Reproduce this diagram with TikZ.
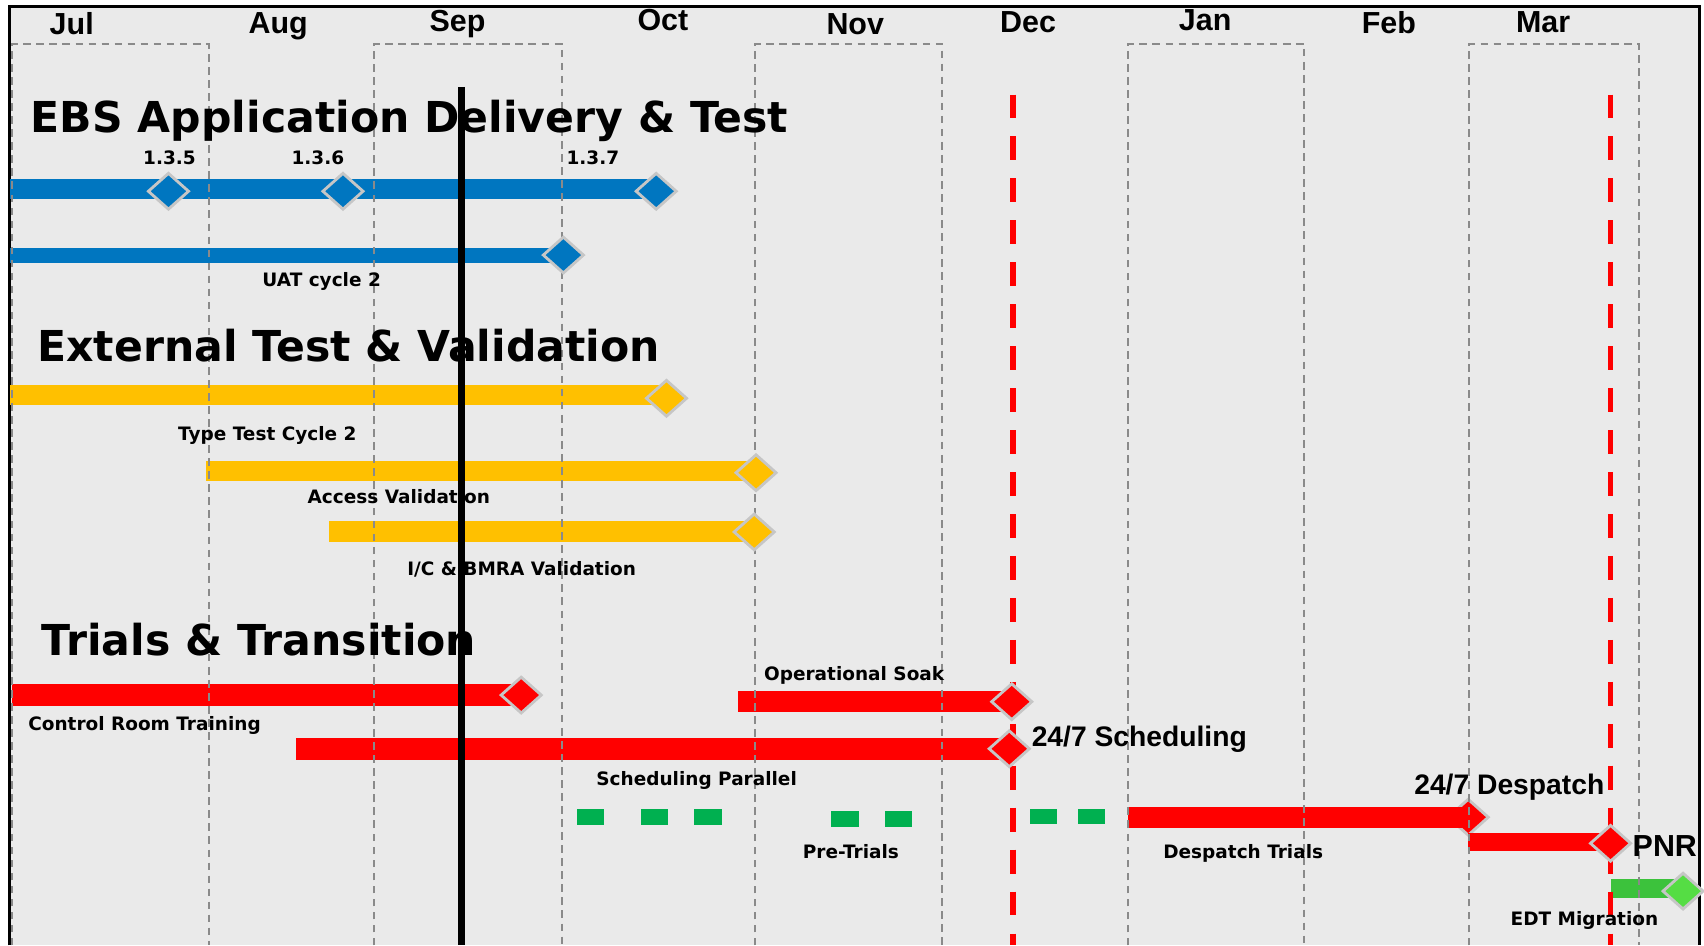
\documentclass[tikz,border=0pt]{standalone}
\usepackage{fontspec}
\setmainfont{DejaVu Sans}
\newfontfamily\arialfont{Liberation Sans}
\usetikzlibrary{shapes.geometric}
\definecolor{bggray}{HTML}{EAEAEA}
\definecolor{gridgray}{HTML}{8A8A8A}
\definecolor{msline}{HTML}{C6C6C6}
\definecolor{bluebar}{RGB}{0,118,192}
\definecolor{yellowbar}{HTML}{FFC000}
\definecolor{redbar}{HTML}{FF0000}
\definecolor{greensq}{HTML}{00B050}
\definecolor{edtbar}{HTML}{3CC23C}
\definecolor{edtms}{HTML}{55DD44}
\tikzset{
  lbl/.style={font=\bfseries\fontsize{8.5pt}{10pt}\selectfont, inner sep=0pt, anchor=base},
  month/.style={font=\arialfont\bfseries\fontsize{14pt}{16pt}\selectfont, inner sep=0pt, anchor=base},
  sect/.style={font=\bfseries\fontsize{19.6pt}{22pt}\selectfont, inner sep=0pt, anchor=base west},
  biglbl/.style={font=\arialfont\bfseries\fontsize{13pt}{15pt}\selectfont, inner sep=0pt, anchor=base west},
  ms/.style={diamond, draw=msline, line width=1.3pt, minimum width=19pt, minimum height=17pt, inner sep=0pt},
  monthbox/.style={draw=gridgray, line width=0.9pt, dash pattern=on 3.5pt off 2.5pt},
  reddash/.style={draw=redbar, line width=2.5pt, dash pattern=on 11pt off 8.3pt},
  todayline/.style={draw=black, line width=3.2pt},
  framestyle/.style={draw=black, line width=1.4pt}
}
\begin{document}
\begin{tikzpicture}[x=0.5pt,y=-0.5pt]
\useasboundingbox (0,0) rectangle (1568,870);
% background and frame
\fill[bggray] (9,6) rectangle (1564,870);
\draw[framestyle] (9,870) -- (9,6) -- (1564,6) -- (1564,870);

% Despatch milestone (partly under its bar)
\node[ms, fill=redbar] (dDesp) at (1351,752) {};

% bars
\fill[bluebar] (9,165) rectangle (604,183);
\fill[bluebar] (9,228.5) rectangle (518,242);
\fill[yellowbar] (9,354) rectangle (613,373);
\fill[yellowbar] (190,424) rectangle (696,443);
\fill[yellowbar] (303,479.5) rectangle (694,498.5);
\fill[redbar] (11,629.5) rectangle (480,649.5);
\fill[redbar] (679.5,636) rectangle (931,655);
\fill[redbar] (272.6,679) rectangle (929,699);
\fill[redbar] (1037.7,742.6) rectangle (1351,762);
\fill[redbar] (1351,766.7) rectangle (1482,783);
\fill[edtbar] (1482.6,809) rectangle (1549,826);

% pre-trial squares
\fill[greensq] (531,744.5) rectangle (556,759);
\fill[greensq] (590,744.5) rectangle (615,759);
\fill[greensq] (639,744.5) rectangle (664,759);
\fill[greensq] (765,746) rectangle (790,761);
\fill[greensq] (814.5,746) rectangle (839,761);
\fill[greensq] (947.5,744.5) rectangle (972.5,758.5);
\fill[greensq] (992,744.5) rectangle (1017,758.5);

% month boxes
\draw[monthbox] (11,870) -- (11,40.5) -- (192.3,40.5) -- (192.3,870);
\draw[monthbox] (343.8,870) -- (343.8,40.5) -- (517,40.5) -- (517,870);
\draw[monthbox] (694.6,870) -- (694.6,40.5) -- (867,40.5) -- (867,870);
\draw[monthbox] (1038,870) -- (1038,40.5) -- (1200,40.5) -- (1200,870);
\draw[monthbox] (1352,870) -- (1352,40.5) -- (1508,40.5) -- (1508,870);

% milestone lines
\coordinate (rTop1) at (932,87);
\coordinate (rBot1) at (932,870);
\coordinate (rTop2) at (1482,87);
\coordinate (rBot2) at (1482,870);
\draw[reddash] (rTop1) -- (rBot1);
\draw[reddash] (rTop2) -- (rBot2);
\coordinate (nowTop) at (425,80);
\coordinate (nowBot) at (425,870);
\draw[todayline] (nowTop) -- (nowBot);

% milestones
\node[ms, fill=bluebar] (d135) at (155,176) {};
\node[ms, fill=bluebar] (d136) at (315.6,176) {};
\node[ms, fill=bluebar] (d137) at (603.8,176) {};
\node[ms, fill=bluebar] (dUAT) at (518.4,234.7) {};
\node[ms, fill=yellowbar] (dType) at (613.3,366.5) {};
\node[ms, fill=yellowbar] (dAcc) at (695.7,435) {};
\node[ms, fill=yellowbar] (dIC) at (694,489.5) {};
\node[ms, fill=redbar] (dCRT) at (479.6,639.6) {};
\node[ms, fill=redbar] (dSoak) at (931,645.7) {};
\node[ms, fill=redbar] (dSched) at (928.7,689) {};
\node[ms, fill=redbar] (dPNR) at (1482,776) {};
\node[ms, fill=edtms] (dEDT) at (1548.7,820) {};

% month labels
\node[month] (mJul) at (66,31.5) {Jul};
\node[month] (mAug) at (256,30.7) {Aug};
\node[month] (mSep) at (421,29) {Sep};
\node[month] (mOct) at (610,28.5) {Oct};
\node[month] (mNov) at (787,31.5) {Nov};
\node[month] (mDec) at (946,30) {Dec};
\node[month] (mJan) at (1109,28) {Jan};
\node[month] (mFeb) at (1278,30.5) {Feb};
\node[month] (mMar) at (1420,30) {Mar};

% section titles
\node[sect] (tEBS) at (28,122) {EBS Application Delivery \& Test};
\node[sect] (tExt) at (34,333) {External Test \& Validation};
\node[sect] (tTri) at (38,603) {Trials \& Transition};

% labels
\node[lbl] (l135) at (156,151) {1.3.5};
\node[lbl] (l136) at (292.5,151) {1.3.6};
\node[lbl] (l137) at (545.5,151) {1.3.7};
\node[lbl] (lUAT) at (296,264) {UAT cycle 2};
\node[lbl] (lType) at (246,405) {Type Test Cycle 2};
\node[lbl] (lAcc) at (367,463) {Access Validation};
\node[lbl] (lIC) at (480,530) {I/C \& BMRA Validation};
\node[lbl] (lCRT) at (133,672) {Control Room Training};
\node[lbl] (lSoak) at (786,626) {Operational Soak};
\node[lbl] (lSched) at (641,723) {Scheduling Parallel};
\node[lbl] (lPre) at (783,790) {Pre-Trials};
\node[lbl] (lDesp) at (1144,790) {Despatch Trials};
\node[lbl] (lEDT) at (1458,852) {EDT Migration};

\node[biglbl] (b247s) at (949,687) {24/7 Scheduling};
\node[biglbl] (b247d) at (1301,731) {24/7 Despatch};
\node[biglbl, font=\arialfont\bfseries\fontsize{14pt}{16pt}\selectfont] (bPNR) at (1502,788) {PNR};
\end{tikzpicture}
\end{document}
